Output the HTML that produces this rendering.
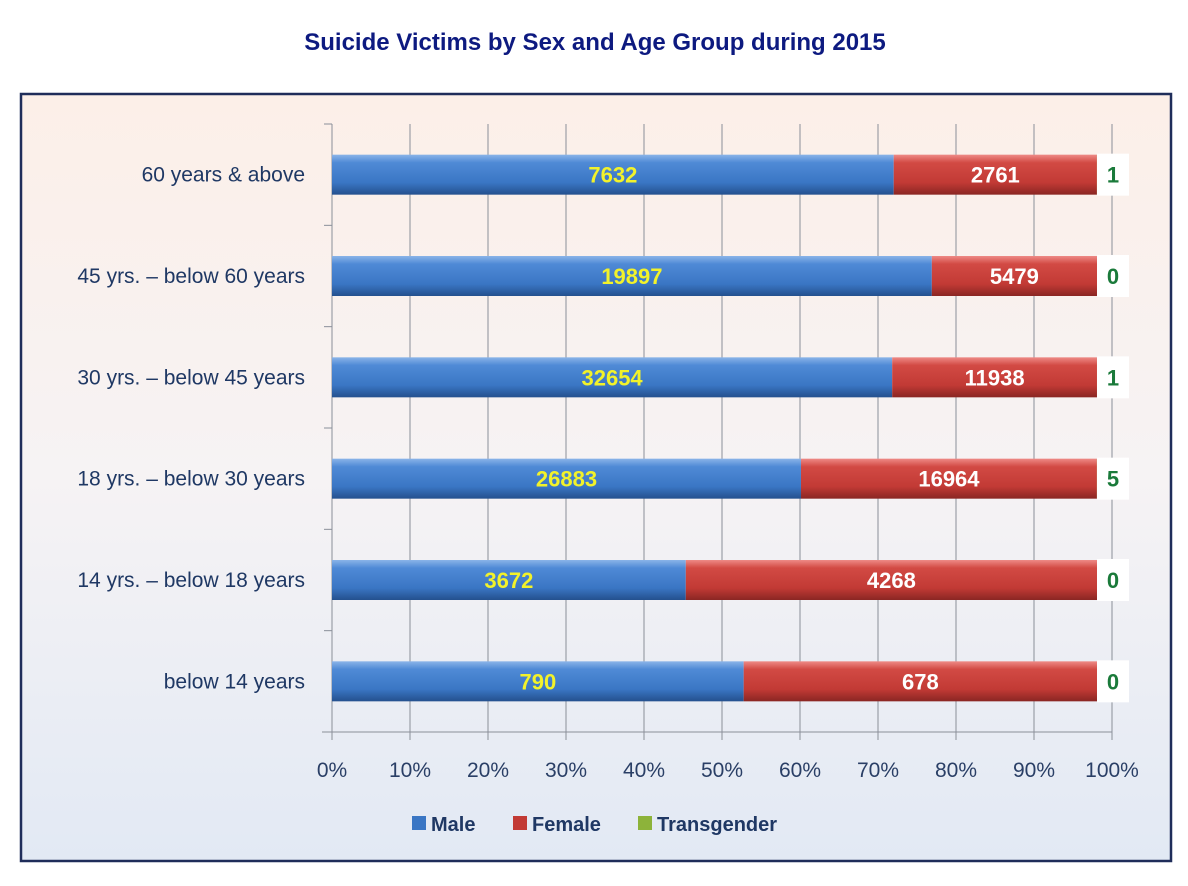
<!DOCTYPE html>
<html><head><meta charset="utf-8"><style>
body{margin:0;background:#fff;font-family:"Liberation Sans",sans-serif}
</style></head><body>
<svg width="1188" height="881" xmlns="http://www.w3.org/2000/svg">
<defs>
<linearGradient id="bg" x1="0" y1="0" x2="0" y2="1"><stop offset="0" stop-color="#fcefe8"/><stop offset="0.5" stop-color="#f6f3f4"/><stop offset="1" stop-color="#e2e9f4"/></linearGradient>
<linearGradient id="gm" x1="0" y1="0" x2="0" y2="1"><stop offset="0" stop-color="#8ab4e8"/><stop offset="0.2" stop-color="#4f8ad6"/><stop offset="0.7" stop-color="#3a76c4"/><stop offset="1" stop-color="#24508e"/></linearGradient>
<linearGradient id="gf" x1="0" y1="0" x2="0" y2="1"><stop offset="0" stop-color="#ee8a86"/><stop offset="0.2" stop-color="#d24a44"/><stop offset="0.7" stop-color="#c23a35"/><stop offset="1" stop-color="#8a2623"/></linearGradient>
</defs>
<text x="595" y="50" text-anchor="middle" font-size="24" font-weight="bold" fill="#0d1a80">Suicide Victims by Sex and Age Group during 2015</text>
<rect x="21" y="94" width="1150" height="767" fill="url(#bg)" stroke="#1f2d5a" stroke-width="2.5"/>
<g id="plot"></g>
<g font-size="20" font-weight="bold" fill="#1f3864">
<rect x="412" y="816" width="14" height="14" fill="#3a76c4"/>
<text x="431" y="831">Male</text>
<rect x="513" y="816" width="14" height="14" fill="#c23a35"/>
<text x="532" y="831">Female</text>
<rect x="638" y="816" width="14" height="14" fill="#8db33a"/>
<text x="657" y="831">Transgender</text>
</g>
</svg>
<script>
const categories=["below 14 years","14 yrs. – below 18 years","18  yrs. – below 30 years","30  yrs. – below 45 years","45  yrs. – below 60 years","60 years & above"];
const male=[790,3672,26883,32654,19897,7632];
const female=[678,4268,16964,11938,5479,2761];
const trans=[0,0,5,1,0,1];
const ticks=["0%","10%","20%","30%","40%","50%","60%","70%","80%","90%","100%"];
const NS="http://www.w3.org/2000/svg";
const g=document.getElementById('plot');
const x0=332,x1=1112,xb=1097,yTop=124,yBot=732;
const xs=p=>x0+(x1-x0)*p;
const xbar=p=>x0+(xb-x0)*p;
const n=categories.length,band=(yBot-yTop)/n;
const yc=i=>yBot-band*(i+0.5);
function mk(t,a){const e=document.createElementNS(NS,t);for(const k in a)e.setAttribute(k,a[k]);g.appendChild(e);return e;}
ticks.forEach((t,i)=>{const x=xs(i/10);
const l=mk('line',{x1:x,x2:x,y1:yTop,y2:yBot+8,stroke:'#8a8f99','stroke-width':1});


const tx=mk('text',{x:x,y:777,'text-anchor':'middle','font-size':21,fill:'#2a3f66'});tx.textContent=t;


});
const ax=mk('line',{x1:322,x2:x1,y1:yBot,y2:yBot,stroke:'#8a8f99'});


for(let i=0;i<=n;i++){const y=yBot-band*i;const t=mk('line',{x1:324,x2:332,y1:y,y2:y,stroke:'#8a8f99'});

}
categories.forEach((c,i)=>{
const y=yc(i),h=40,tot=male[i]+female[i]+trans[i];
const pm=male[i]/tot,pf=female[i]/tot;
const cl=mk('text',{x:305,y:y+7,'text-anchor':'end','font-size':21,fill:'#1f3864'});cl.textContent=c;


const bm=mk('rect',{x:xbar(0),y:y-h/2,width:xbar(pm)-xbar(0),height:h,fill:'url(#gm)'});


const bf=mk('rect',{x:xbar(pm),y:y-h/2,width:xbar(pm+pf)-xbar(pm),height:h,fill:'url(#gf)'});


const bt=mk('rect',{x:xbar(pm+pf),y:y-h/2,width:Math.max(0,xbar(1)-xbar(pm+pf)),height:h,fill:'#8db33a'});


const lm=mk('text',{x:(xbar(0)+xbar(pm))/2,y:y+8,'text-anchor':'middle','font-size':22,'font-weight':'bold',fill:'#f2f22a'});lm.textContent=male[i];


const lf=mk('text',{x:(xbar(pm)+xbar(pm+pf))/2,y:y+8,'text-anchor':'middle','font-size':22,'font-weight':'bold',fill:'#ffffff'});lf.textContent=female[i];


const bx=mk('rect',{x:xb,y:y-21,width:32,height:42,fill:'#ffffff'});


const lt=mk('text',{x:xb+16,y:y+8,'text-anchor':'middle','font-size':22,'font-weight':'bold',fill:'#1a7a3a'});lt.textContent=trans[i];


});
</script>
</body></html>
